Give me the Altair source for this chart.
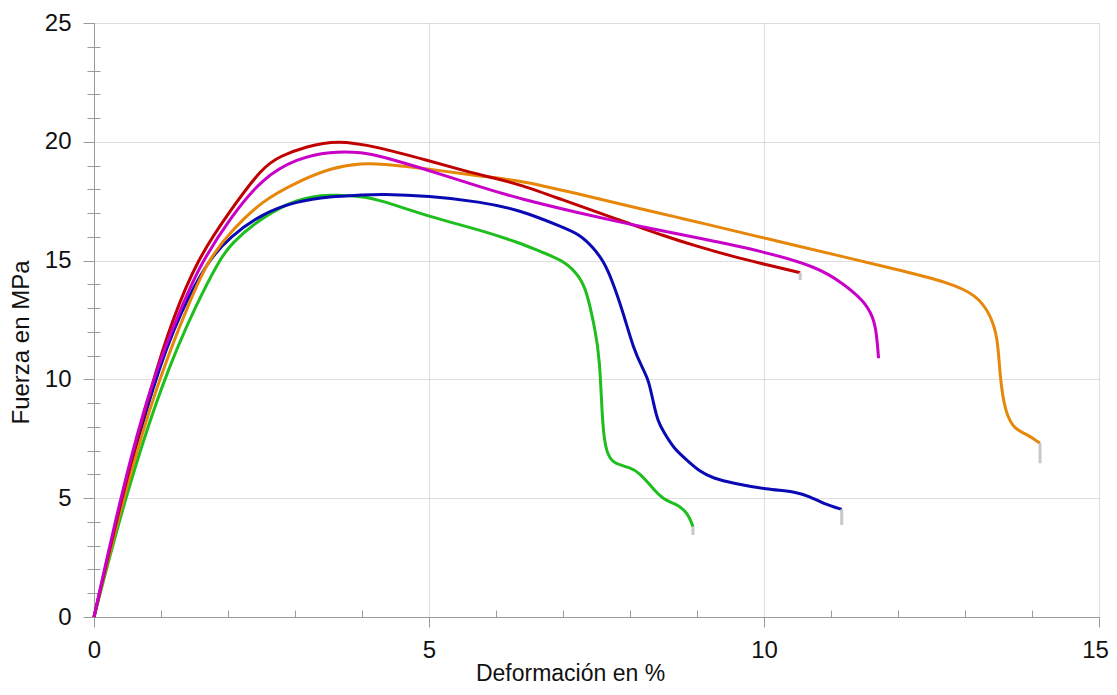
import altair as alt
import pandas as pd

# ---- data ----
series_names = ["Probeta 1", "Probeta 2", "Probeta 3", "Probeta 4", "Probeta 5"]
series_colors = ["#1EBE1E", "#0A0AB4", "#E6870A", "#C00000", "#C800C8"]

green_x = [0, 0.46, 1.03, 1.55, 1.85, 2.03, 2.52, 3.03, 3.52, 4.02, 4.27, 5.0, 5.76, 6.36,
           6.66, 7.05, 7.25, 7.35, 7.48, 7.55, 7.59, 7.65, 7.75, 8.0, 8.15, 8.32, 8.5,
           8.7, 8.87, 8.94]
green_y = [0, 5.0, 10.0, 13.3, 14.9, 15.7, 16.85, 17.6, 17.8, 17.7, 17.55, 16.85, 16.29, 15.74,
           15.38, 14.95, 14.3, 13.76, 12.1, 10.9, 7.9, 6.9, 6.45, 6.3, 6.05, 5.48, 4.92,
           4.76, 4.36, 3.8]

blue_x = [0, 0.42, 0.9, 1.3, 1.70, 2.03, 2.52, 3.03, 3.52, 4.02, 4.27, 5.0, 5.76, 6.36, 7.0,
          7.25, 7.45, 7.6, 7.73, 7.9, 8.05, 8.2, 8.28, 8.35, 8.42, 8.5, 8.65, 8.85, 9.04, 9.24,
          9.54, 10.04, 10.49, 10.69, 10.88, 11.16]
blue_y = [0, 5.0, 10.0, 12.9, 15.0, 16.0, 17.0, 17.5, 17.7, 17.76, 17.8, 17.72, 17.48, 17.13,
          16.4, 16.1, 15.55, 15.0, 14.2, 12.8, 11.3, 10.4, 9.95, 9.0, 8.2, 7.8, 7.1, 6.6, 6.12,
          5.84, 5.63, 5.37, 5.27, 5.06, 4.78, 4.53]

orange_x = [0, 0.43, 0.96, 1.43, 1.70, 2.03, 2.52, 3.03, 3.52, 4.02, 4.27, 5.0, 5.76, 6.36,
            7.25, 7.85, 8.3, 8.75, 9.04, 10.0, 11.28, 12.03, 12.78, 13.17, 13.37, 13.49, 13.52,
            13.6, 13.75, 13.92, 14.12]
orange_y = [0, 5.0, 10.0, 13.3, 15.0, 16.2, 17.55, 18.3, 18.9, 19.1, 19.07, 18.86, 18.55, 18.38,
            17.79, 17.39, 17.09, 16.79, 16.6, 15.95, 15.1, 14.6, 14.06, 13.55, 12.78, 11.8, 10.11,
            8.57, 7.87, 7.7, 7.31]

red_x = [0, 0.41, 0.88, 1.17, 1.53, 2.03, 2.52, 2.78, 3.17, 3.62, 4.22, 5.0, 5.5, 6.0, 6.36,
         7.0, 7.5, 8.0, 8.5, 9.0, 9.5, 10.0, 10.54]
red_y = [0, 5.0, 10.0, 12.5, 15.0, 17.1, 18.95, 19.4, 19.8, 20.07, 19.8, 19.2, 18.8, 18.45, 18.2,
         17.55, 17.05, 16.55, 16.05, 15.6, 15.2, 14.85, 14.49]

magenta_x = [0, 0.39, 0.86, 1.33, 1.58, 2.03, 2.52, 3.03, 3.52, 4.02, 4.27, 5.0, 5.76, 6.36,
             7.25, 7.85, 8.3, 9.04, 10.0, 10.79, 11.18, 11.48, 11.63, 11.68, 11.71]
magenta_y = [0, 5.0, 10.0, 13.2, 14.8, 16.8, 18.5, 19.3, 19.6, 19.56, 19.4, 18.8, 18.1, 17.6,
             17.0, 16.62, 16.36, 15.94, 15.38, 14.74, 14.04, 13.34, 12.64, 11.94, 10.89]

# grey break marks at the end of some curves
break_x = [8.94, 11.16, 14.12, 10.54]
break_y_top = [3.8, 4.53, 7.31, 14.49]
break_y_bottom = [3.45, 3.87, 6.47, 14.18]

x_major = [0, 5, 10, 15]
y_major = [0, 5, 10, 15, 20, 25]
x_minor = [1, 2, 3, 4, 6, 7, 8, 9, 11, 12, 13, 14]
y_minor = [1, 2, 3, 4, 6, 7, 8, 9, 11, 12, 13, 14, 16, 17, 18, 19, 21, 22, 23, 24]

x_title = "Deformación en %"
y_title = "Fuerza en MPa"

# ---- tables ----
rows = []
for name, xs, ys in zip(series_names,
                        [green_x, blue_x, orange_x, red_x, magenta_x],
                        [green_y, blue_y, orange_y, red_y, magenta_y]):
    for i, (xv, yv) in enumerate(zip(xs, ys)):
        rows.append({"serie": name, "x": xv, "y": yv, "i": i})
df = pd.DataFrame(rows)

breaks = pd.DataFrame({"x": break_x, "y": break_y_top, "y2": break_y_bottom})
xminor_df = pd.DataFrame({"v": x_minor})
yminor_df = pd.DataFrame({"v": y_minor})

FONT = "Liberation Sans"
AXIS_GREY = "#9a9a9a"
GRID_GREY = "#bdbdbd"

xscale = alt.Scale(domain=[0, 15], nice=False, zero=False)
yscale = alt.Scale(domain=[0, 25], nice=False, zero=False)

lines = alt.Chart(df).mark_line(strokeWidth=3, interpolate="basis").encode(
    x=alt.X("x:Q", scale=xscale,
            axis=alt.Axis(values=x_major, grid=True, gridColor=GRID_GREY, gridDash=[1, 1],
                          domainColor=AXIS_GREY, tickColor=AXIS_GREY, tickSize=10,
                          labelFont=FONT, labelFontSize=24, labelColor="#111111",
                          labelPadding=11, labelFlush=False,
                          labelOffset={"condition": {"test": "datum.value == 15", "value": -4},
                                       "value": 0},
                          title=x_title, titleFont=FONT, titleFontSize=23,
                          titleFontWeight="normal", titleColor="#111111",
                          titleX=476, titleY=63, titleBaseline="alphabetic",
                          titleAlign="center")),
    y=alt.Y("y:Q", scale=yscale,
            axis=alt.Axis(values=y_major, grid=True, gridColor=GRID_GREY, gridDash=[1, 1],
                          domainColor=AXIS_GREY, tickColor=AXIS_GREY, tickSize=11,
                          labelFont=FONT, labelFontSize=24, labelColor="#111111",
                          labelPadding=12, labelFlush=False,
                          title=y_title, titleFont=FONT, titleFontSize=24,
                          titleFontWeight="normal", titleColor="#111111",
                          titleX=-66, titleY=319, titleAngle=270,
                          titleBaseline="alphabetic", titleAlign="center")),
    color=alt.Color("serie:N", scale=alt.Scale(domain=series_names, range=series_colors),
                    legend=None),
    order=alt.Order("i:Q"),
)

ends = alt.Chart(breaks).mark_rule(strokeWidth=3, color="#c8c8c8").encode(
    x=alt.X("x:Q", scale=xscale, axis=None),
    y=alt.Y("y:Q", scale=yscale, axis=None),
    y2="y2:Q",
)

minor_x_axis = alt.Chart(xminor_df).mark_point(opacity=0).encode(
    x=alt.X("v:Q", scale=xscale,
            axis=alt.Axis(orient="bottom", values=x_minor, offset=-7, tickSize=7,
                          tickColor=AXIS_GREY, domain=False, labels=False, grid=False,
                          title=None)),
)

minor_y_axis = alt.Chart(yminor_df).mark_point(opacity=0).encode(
    y=alt.Y("v:Q", scale=yscale,
            axis=alt.Axis(orient="left", values=y_minor, offset=-6, tickSize=13,
                          tickColor=AXIS_GREY, domain=False, labels=False, grid=False,
                          title=None)),
)

chart = alt.layer(lines, ends, minor_x_axis, minor_y_axis).resolve_axis(
    x="independent", y="independent"
).properties(
    width=1005,
    height=594,
    autosize=alt.AutoSizeParams(type="none"),
    padding={"left": 86, "top": 15, "right": 10, "bottom": 70},
    background="white",
).configure_view(stroke=None)

chart.save("out.html", embed_options={"renderer": "svg", "actions": False})
